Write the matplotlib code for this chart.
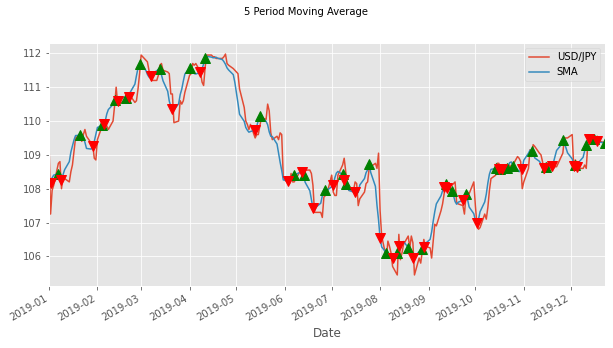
import pandas as pd
import matplotlib
matplotlib.use("Agg")
import matplotlib.pyplot as plt
import matplotlib.dates as mdates

# Daily USD/JPY closes (business days)
jan = [109.40, 107.25, 107.95, 108.10, 108.75, 108.80, 108.00, 108.35, 108.30, 108.20, 108.50, 108.70,
       109.10, 109.50, 109.60, 109.40, 109.60, 109.75, 109.55, 109.35, 109.30, 108.90, 108.85]
feb = [109.45, 109.85, 109.95, 109.95, 109.85, 109.75, 110.00, 110.45, 111.00, 110.50, 110.50, 110.60,
       110.60, 110.80, 110.75, 110.75, 110.55, 110.60, 110.95, 111.40]
mar = [111.95, 111.80, 111.75, 111.50, 111.25, 111.20, 111.20, 111.35, 111.65, 111.70, 111.50, 111.45,
       111.40, 110.80, 110.80, 109.95, 110.00, 110.60, 110.50, 110.60, 110.85]
apr = [111.35, 111.40, 111.70, 111.65, 111.70, 111.45, 111.15, 111.05, 111.60, 111.95, 111.95, 111.90,
       111.90, 111.85, 111.85, 111.85, 111.90, 111.98, 111.70, 111.65, 111.55, 111.50]
may = [111.45, 111.40, 110.95, 110.40, 110.00, 109.90, 109.75, 109.90, 109.50, 109.60, 109.60, 109.85,
       110.10, 110.05, 110.50, 110.30, 109.65, 109.45, 109.55, 109.45, 109.65, 109.60, 108.35]
jun = [108.15, 108.15, 108.45, 108.20, 108.20, 108.45, 108.50, 108.45, 108.40, 108.55, 108.55, 108.45,
       108.10, 107.30, 107.30, 107.30, 107.15, 107.75, 107.80, 107.85]
jul = [108.40, 107.90, 107.80, 107.80, 108.40, 108.70, 108.90, 108.50, 108.05, 107.95, 107.95, 108.20,
       108.15, 107.50, 107.70, 107.90, 108.15, 108.20, 108.60, 108.65, 108.75, 108.60, 109.05]
aug = [107.35, 106.60, 105.95, 106.45, 106.30, 106.10, 105.70, 105.45, 106.65, 105.90, 106.10, 106.35,
       106.60, 106.25, 106.60, 106.40, 105.45, 105.95, 105.80, 106.15, 106.50, 106.30]
sep = [106.25, 105.95, 106.45, 106.95, 106.90, 107.35, 107.55, 107.85, 108.10, 108.10, 108.10, 108.15,
       108.20, 107.60, 107.55, 107.50, 107.25, 107.80, 107.90, 107.85, 108.20]
oct_ = [107.50, 106.95, 106.80, 106.85, 107.25, 107.10, 107.45, 107.95, 108.30, 108.40, 108.75, 108.75,
        108.65, 108.45, 108.60, 108.50, 108.70, 108.60, 108.70, 108.95, 108.90, 108.80, 108.00]
nov = [108.20, 108.60, 109.15, 108.95, 109.30, 109.25, 109.05, 109.00, 108.80, 108.45, 108.75, 108.65,
       108.55, 108.60, 108.65, 108.65, 108.95, 109.05, 109.50, 109.50, 109.50]
dec = [109.60, 108.60, 108.85, 108.75, 108.60, 108.60, 108.70, 108.60, 109.35, 109.40, 109.55, 109.50,
       109.55, 109.35, 109.40, 109.35]

# Crossover signal dates
buy_dates = ["2019-01-07", "2019-01-21", "2019-02-04", "2019-02-12", "2019-02-19", "2019-02-28",
             "2019-03-13", "2019-04-01", "2019-04-11", "2019-05-16", "2019-06-07", "2019-06-13",
             "2019-06-27", "2019-07-08", "2019-07-10", "2019-07-25", "2019-08-05", "2019-08-12",
             "2019-08-19", "2019-08-28", "2019-09-12", "2019-09-16", "2019-09-25", "2019-10-14",
             "2019-10-17", "2019-10-21", "2019-10-25", "2019-11-06", "2019-11-15", "2019-11-26",
             "2019-12-04", "2019-12-11", "2019-12-16", "2019-12-23"]
sell_dates = ["2019-01-02", "2019-01-09", "2019-01-29", "2019-02-05", "2019-02-14", "2019-02-21",
              "2019-03-07", "2019-03-21", "2019-04-08", "2019-05-13", "2019-06-03", "2019-06-12",
              "2019-06-19", "2019-07-02", "2019-07-09", "2019-07-16", "2019-08-01", "2019-08-09",
              "2019-08-13", "2019-08-22", "2019-08-29", "2019-09-11", "2019-09-13", "2019-09-23",
              "2019-10-02", "2019-10-16", "2019-10-18", "2019-10-31", "2019-11-14", "2019-11-19",
              "2019-12-03", "2019-12-05", "2019-12-13", "2019-12-18"]

months = [jan, feb, mar, apr, may, jun, jul, aug, sep, oct_, nov, dec]
values = [v for m in months for v in m]
dates = pd.bdate_range("2019-01-01", "2019-12-23")
price = pd.Series(values, index=dates, name="USD/JPY")
# 5-period moving average on newest-first data
sma = price[::-1].rolling(5, min_periods=1).mean()[::-1]

plt.style.use("ggplot")
fig, ax = plt.subplots(figsize=(613 / 72, 348 / 72), dpi=72)
ax.plot(price.index, price.values, label="USD/JPY")
ax.plot(sma.index, sma.values, label="SMA")
bd = pd.to_datetime(buy_dates)
sd = pd.to_datetime(sell_dates)
ax.plot(bd, sma.loc[bd].values, "^", color="g", markersize=10)
ax.plot(sd, sma.loc[sd].values, "v", color="r", markersize=10)

ax.set_xlim(dates[0], dates[-1])
ax.xaxis.set_major_locator(mdates.MonthLocator())
ax.xaxis.set_major_formatter(mdates.DateFormatter("%Y-%m"))
for lbl in ax.get_xticklabels():
    lbl.set_rotation(30)
    lbl.set_ha("right")
ax.set_xlabel("Date")
ax.legend(loc="upper right")
fig.suptitle("5 Period Moving Average", fontsize=10)
fig.subplots_adjust(left=49 / 613, right=605 / 613, top=1 - 43 / 348, bottom=1 - 286 / 348)
fig.savefig("out.png", dpi=72)
